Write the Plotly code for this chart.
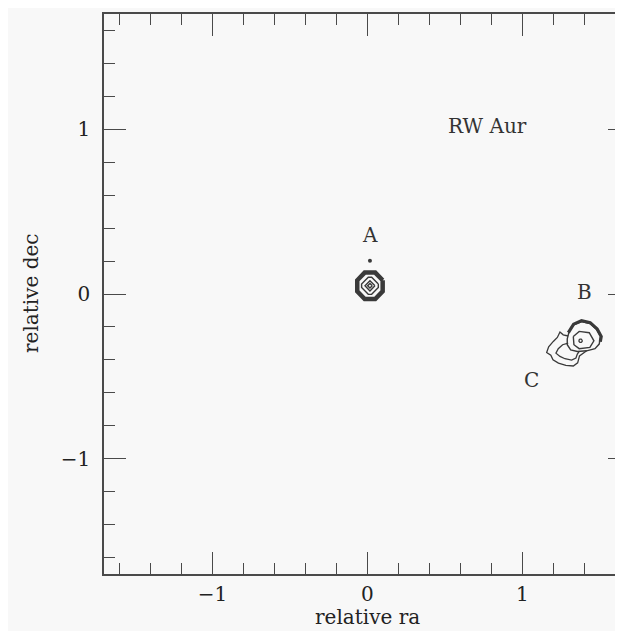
import plotly.graph_objects as go

# ---------------- data ----------------
tick_values = [-1, 0, 1]
x_tick_text = ["\u22121", "0", "1"]
y_tick_text = ["\u22121", "0", "1"]

# Source A: nested contour rings (centre, half-widths, shapes)
A_center = (0.016, 0.050)
A_ring_rx = [0.082, 0.054, 0.032, 0.015]
A_ring_ry = [0.080, 0.052, 0.031, 0.014]
A_ring_shape = ["octagon", "cutdiamond", "diamond", "diamond"]
A_ring_width = [4.5, 1.4, 1.4, 1.4]
A_dot = (0.016, 0.202)

# unit shapes for the A rings
shape_templates = {
    "octagon": ([1, 0.414, -0.414, -1, -1, -0.414, 0.414, 1, 1],
                [0.414, 1, 1, 0.414, -0.414, -1, -1, -0.414, 0.414]),
    "cutdiamond": ([1, 0.2, -0.2, -1, -1, -0.2, 0.2, 1, 1],
                   [0.2, 1, 1, 0.2, -0.2, -1, -1, -0.2, 0.2]),
    "diamond": ([1, 0, -1, 0, 1], [0, 1, 0, -1, 0]),
}

# Source B / C contours (relative ra, relative dec)
B_outer_x = [1.289, 1.302, 1.332, 1.381, 1.435, 1.478, 1.504, 1.495, 1.468, 1.414, 1.354, 1.311, 1.289, 1.289]
B_outer_y = [-0.272, -0.223, -0.187, -0.167, -0.179, -0.215, -0.258, -0.304, -0.332, -0.345, -0.349, -0.340, -0.308, -0.272]
B_rim_x = [1.296, 1.330, 1.381, 1.437, 1.482, 1.508, 1.502]
B_rim_y = [-0.235, -0.183, -0.162, -0.174, -0.212, -0.258, -0.290]
B_mid_x = [1.328, 1.366, 1.431, 1.461, 1.435, 1.366, 1.332, 1.328]
B_mid_y = [-0.258, -0.227, -0.235, -0.284, -0.324, -0.332, -0.308, -0.258]
B_peak = (1.375, -0.284)
C_outer_x = [1.295, 1.263, 1.242, 1.225, 1.199, 1.169, 1.156, 1.183, 1.197, 1.232, 1.280, 1.328, 1.356, 1.368, 1.414]
C_outer_y = [-0.255, -0.248, -0.231, -0.264, -0.288, -0.320, -0.355, -0.372, -0.400, -0.420, -0.433, -0.437, -0.418, -0.376, -0.345]
C_inner_x = [1.295, 1.259, 1.231, 1.216, 1.242, 1.274, 1.317, 1.345, 1.354, 1.366]
C_inner_y = [-0.298, -0.308, -0.332, -0.359, -0.379, -0.393, -0.401, -0.389, -0.365, -0.349]

# text labels
label_text = ["RW Aur", "A", "B", "C"]
label_x = [0.777, 0.016, 1.403, 1.059]
label_y = [1.023, 0.358, 0.014, -0.522]

# ---------------- figure ----------------
LINE = "#3a3a3a"
AXC = "#4a4a4a"
FONT = "DejaVu Serif"
BG = "#f8f8f8"

fig = go.Figure()

def add_line(xs, ys, width=1.4, yaxis="y"):
    fig.add_trace(go.Scatter(x=xs, y=ys, mode="lines", yaxis=yaxis,
                             line=dict(color=LINE, width=width),
                             hoverinfo="skip", showlegend=False))

for rx, ry, shp, w in zip(A_ring_rx, A_ring_ry, A_ring_shape, A_ring_width):
    tx, ty = shape_templates[shp]
    add_line([A_center[0] + rx * v for v in tx],
             [A_center[1] + ry * v for v in ty], w)

fig.add_trace(go.Scatter(x=[A_dot[0]], y=[A_dot[1]], mode="markers",
                         marker=dict(color=LINE, size=4), hoverinfo="skip", showlegend=False))

add_line(B_outer_x, B_outer_y, 1.4)
add_line(B_rim_x, B_rim_y, 3.2)
add_line(B_mid_x, B_mid_y, 1.4)
tx, ty = shape_templates["octagon"]
add_line([B_peak[0] + 0.010 * v for v in tx], [B_peak[1] + 0.010 * v for v in ty], 1.3)
add_line(C_outer_x, C_outer_y, 1.3)
# C inner contour drawn against the right-hand axis (same scale) so that axis is rendered
add_line(C_inner_x, C_inner_y, 1.3, yaxis="y2")

for t, x, y in zip(label_text, label_x, label_y):
    fig.add_annotation(x=x, y=y, text=t, showarrow=False,
                       font=dict(family=FONT, size=20, color="#333333"))

fig.add_annotation(x=0.0, xref="x", y=-0.077, yref="paper", text="relative ra",
                   showarrow=False, yanchor="middle",
                   font=dict(family=FONT, size=20, color="#222222"))
fig.add_annotation(x=-0.1385 * 527 / 511, xref="paper", y=0.5, yref="paper", text="relative dec",
                   showarrow=False, textangle=-90, xanchor="center",
                   font=dict(family=FONT, size=20, color="#222222"))

common = dict(showgrid=False, zeroline=False, ticks="inside", ticklen=22,
              tickwidth=1.3, tickcolor=AXC, tickvals=tick_values,
              showline=True, linecolor=AXC, linewidth=1.5,
              minor=dict(dtick=0.2, tick0=0, ticks="inside", ticklen=11,
                         tickwidth=1.2, tickcolor=AXC),
              tickfont=dict(family=FONT, size=20, color="#222222"))

fig.update_layout(
    width=607, height=631,
    margin=dict(l=96, r=0, t=6, b=65),
    paper_bgcolor=BG, plot_bgcolor=BG,
    xaxis=dict(range=[-1.7, 1.597], ticktext=x_tick_text, ticklabelstandoff=1,
               mirror="ticks", **common),
    yaxis=dict(range=[-1.7, 1.7], ticktext=y_tick_text, ticklabelstandoff=8,
               mirror=False, **common),
    yaxis2=dict(range=[-1.7, 1.7], overlaying="y", side="right", anchor="x",
                tickvals=tick_values, showticklabels=False, showgrid=False,
                zeroline=False, showline=False, linecolor="rgba(0,0,0,0)",
                ticks="inside", ticklen=7, tickwidth=1.3, tickcolor=AXC),
)

fig.write_html("out.html")
